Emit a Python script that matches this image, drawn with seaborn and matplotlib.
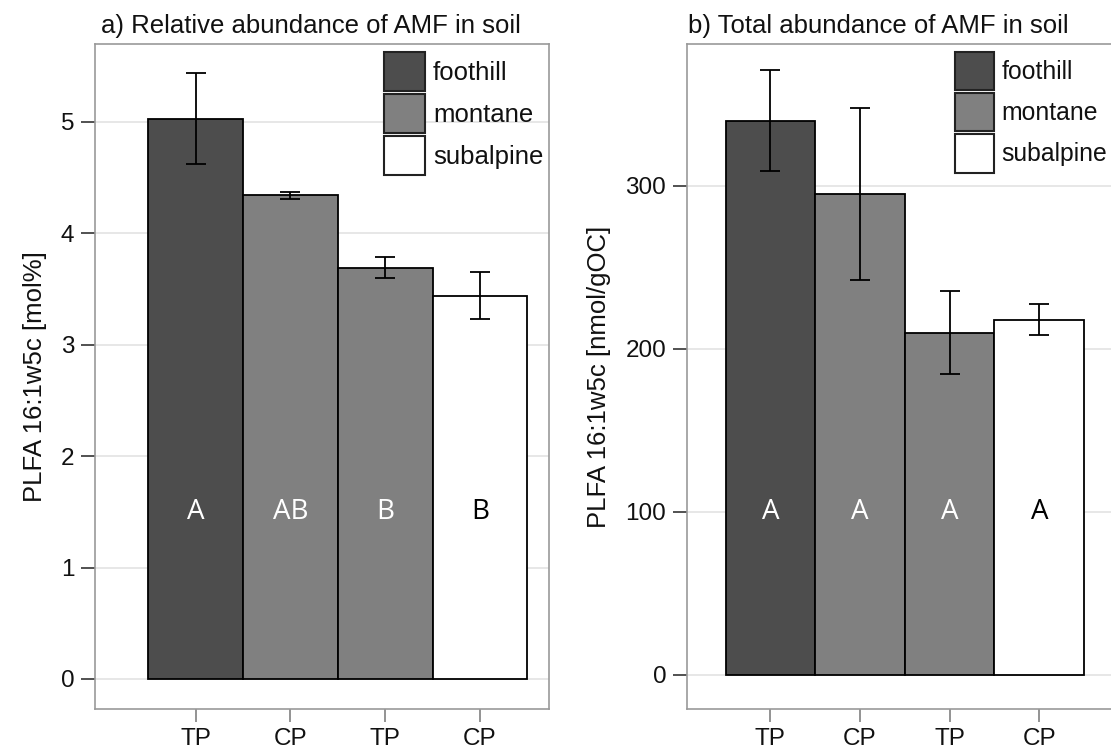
import matplotlib
matplotlib.use("Agg")
import matplotlib.pyplot as plt
import seaborn as sns
import pandas as pd
import numpy as np
from matplotlib.patches import Patch

# ---- data ----
groups = ["g1", "g2", "g3", "g4"]
tick_labels = ["TP", "CP", "TP", "CP"]
zones = ["foothill", "montane", "montane", "subalpine"]
zone_order = ["foothill", "montane", "subalpine"]
zone_colors = {"foothill": "#4d4d4d", "montane": "#808080", "subalpine": "#ffffff"}

rel_mean = [5.03, 4.34, 3.69, 3.44]
rel_err = [0.41, 0.03, 0.095, 0.21]
rel_letters = ["A", "AB", "B", "B"]

tot_mean = [340, 295, 210, 218]
tot_err = [31, 53, 25.5, 9.5]
tot_letters = ["A", "A", "A", "A"]

letter_colors = ["white", "white", "white", "black"]

titles = ["a) Relative abundance of AMF in soil", "b) Total abundance of AMF in soil"]
ylabels = ["PLFA 16:1w5c [mol%]", "PLFA 16:1w5c [nmol/gOC]"]

sns.set_style("white")
plt.rcParams["font.family"] = ["Liberation Sans", "DejaVu Sans"]
plt.rcParams["text.color"] = "#111111"
plt.rcParams["axes.labelcolor"] = "#111111"
plt.rcParams["xtick.labelcolor"] = "#111111"
plt.rcParams["ytick.labelcolor"] = "#111111"

W, H = 1111, 751
fig = plt.figure(figsize=(W / 100, H / 100), dpi=100)

bot_px, top_px = 709, 44
ax1 = fig.add_axes([95 / W, (H - bot_px) / H, 454 / W, (bot_px - top_px) / H])
ax2 = fig.add_axes([687 / W, (H - bot_px) / H, 433 / W, (bot_px - top_px) / H])

# per panel: axes, means, errors, letters, letter y, ylim, xlim, yticks,
# ylabel x, legend x, title x, legend handle length, legend handle height, legend font size
panels = [
    (ax1, rel_mean, rel_err, rel_letters, 1.5, (-0.27, 5.70), (-1.061, 3.728), [0, 1, 2, 3, 4, 5],
     -0.105, 0.637, 0.013, 1.6, 1.96, 18.5),
    (ax2, tot_mean, tot_err, tot_letters, 100, (-20.9, 387), (-0.93, 3.90), [0, 100, 200, 300],
     -0.175, 0.619, 0.002, 1.58, 2.0, 17.8),
]

FS = 18.5
for i, (ax, means, errs, letters, ly, ylim, xlim, yt, ylab_x, leg_x, title_x, hl, hh, lfs) in enumerate(panels):
    df = pd.DataFrame({"group": groups, "value": means, "zone": zones})
    sns.barplot(data=df, x="group", y="value", hue="zone", hue_order=zone_order,
                palette=zone_colors, dodge=False, width=1.0, errorbar=None,
                edgecolor="black", linewidth=1.3, ax=ax, legend=False, zorder=2)
    pos = np.arange(len(groups))
    ax.errorbar(pos, means, yerr=errs, fmt="none", ecolor="black",
                elinewidth=1.3, capsize=7.5, capthick=1.3, zorder=3)
    for p, lt, c in zip(pos, letters, letter_colors):
        ax.text(p, ly, lt, ha="center", va="center", color=c, fontsize=20,
                family=["Open Sans", "DejaVu Sans"], zorder=4)

    ax.set_xlim(*xlim)
    ax.set_ylim(*ylim)
    ax.set_yticks(yt)
    ax.set_xticks(pos)
    ax.set_xticklabels(tick_labels)
    ax.set_xlabel("")
    ax.set_ylabel(ylabels[i], fontsize=FS)
    ax.yaxis.set_label_coords(ylab_x, 0.5)

    ax.set_axisbelow(True)
    ax.yaxis.grid(True, color="#e3e3e3", linewidth=1.2)
    ax.xaxis.grid(False)
    for s in ax.spines.values():
        s.set_color("#999999")
        s.set_linewidth(1.2)

    ax.tick_params(axis="y", direction="out", length=10, width=1.2, color="#333333",
                   labelsize=17.5, pad=5, left=True)
    ax.tick_params(axis="x", direction="out", length=9, width=1.2, color="#808080",
                   labelsize=17.5, pad=5, bottom=True)

    ax.set_title(titles[i], loc="left", fontsize=FS, pad=8, x=title_x)

    handles = [Patch(facecolor=zone_colors[z], edgecolor="#222222", linewidth=1.5, label=z)
               for z in zone_order]
    ax.legend(handles=handles, loc="upper left", bbox_to_anchor=(leg_x, 0.988),
              frameon=False, fontsize=lfs, handlelength=hl, handleheight=hh,
              handletextpad=0.3, labelspacing=0.12, borderpad=0, borderaxespad=0)

fig.savefig("out.png", dpi=100)
